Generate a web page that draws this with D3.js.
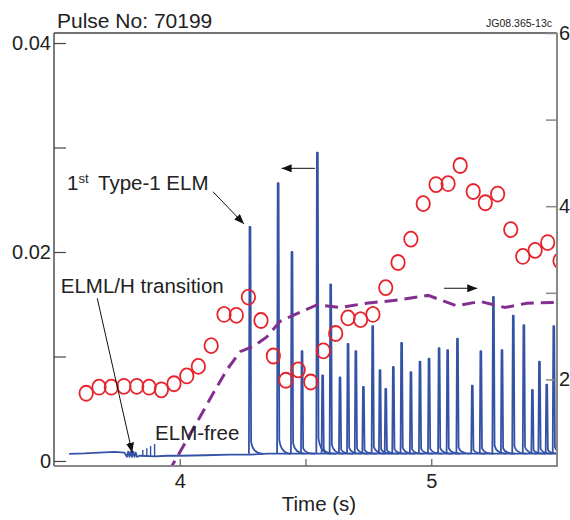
<!DOCTYPE html>
<html>
<head>
<meta charset="utf-8">
<script src="https://cdn.jsdelivr.net/npm/d3@7"></script>
<style>
  body { margin: 0; background: #fff; }
  svg { display: block; font-family: "Liberation Sans", Arial, sans-serif; }
</style>
</head>
<body>
<svg width="570" height="520"></svg>
<script>
// time axis
const timeTicks = [4, 4.5, 5];
const timeLabels = { 4: "4", 5: "5" };
const leftTicks = [0, 0.01, 0.02, 0.03, 0.04];
const leftLabels = { 0: "0", 0.02: "0.02", 0.04: "0.04" };
const rightTicks = [2, 3, 4, 5, 6];
const rightLabels = { 2: "2", 4: "4", 6: "6" };

// red circles (right axis)
const densT = [3.628, 3.679, 3.728, 3.778, 3.829, 3.878, 3.927, 3.977, 4.028, 4.074,
  4.125, 4.176, 4.225, 4.273, 4.323, 4.372, 4.422, 4.471, 4.521, 4.571,
  4.620, 4.669, 4.719, 4.768, 4.819, 4.868, 4.919, 4.968, 5.019, 5.067,
  5.115, 5.167, 5.215, 5.264, 5.316, 5.364, 5.413, 5.463, 5.512];
const densV = [1.84, 1.91, 1.91, 1.92, 1.92, 1.91, 1.88, 1.95, 2.04, 2.15,
  2.39, 2.75, 2.74, 2.95, 2.68, 2.27, 1.99, 2.11, 1.97, 2.33,
  2.53, 2.71, 2.69, 2.75, 3.06, 3.35, 3.62, 4.03, 4.25, 4.26,
  4.47, 4.17, 4.04, 4.14, 3.73, 3.42, 3.49, 3.58, 3.37];

// purple dashed (right axis)
const tempT = [3.955, 4.081, 4.133, 4.187, 4.240, 4.292, 4.346, 4.399, 4.451, 4.545,
  4.637, 4.743, 4.849, 4.988, 5.101, 5.194, 5.293, 5.380, 5.5];
const tempV = [0.93, 1.57, 1.84, 2.11, 2.32, 2.38, 2.49, 2.67, 2.74, 2.86,
  2.83, 2.88, 2.91, 2.97, 2.85, 2.90, 2.83, 2.88, 2.89];

// blue D-alpha trace (left axis): baseline + ELM spikes
const baseT = [3.56, 3.62, 3.68, 3.74, 3.78, 3.79, 3.795, 3.8, 3.805, 3.81, 3.815, 3.82,
  3.825, 3.83, 3.84, 3.9, 3.95, 4.0, 4.1, 4.2, 4.278, 4.35, 4.5, 4.7, 4.9, 5.1, 5.3, 5.5];
const baseV = [0.00068, 0.00072, 0.0008, 0.00088, 0.0008, 0.0004, 0.0009, 0.0004, 0.0009, 0.0004, 0.0009, 0.0004,
  0.0008, 0.0004, 0.0005, 0.00045, 0.0005, 0.0005, 0.00055, 0.0006, 0.0006, 0.0007, 0.0007, 0.0007, 0.0007, 0.0007, 0.0007, 0.0007];
const smallT = [3.853, 3.869, 3.884, 3.900];
const smallV = [0.00105, 0.00121, 0.00144, 0.00163];
const smallFloor = 0.00045;
const elmT = [4.279, 4.391, 4.446, 4.486, 4.547, 4.568, 4.600, 4.637, 4.669, 4.700,
  4.730, 4.767, 4.796, 4.819, 4.849, 4.882, 4.919, 4.955, 4.991, 5.031,
  5.065, 5.104, 5.163, 5.197, 5.247, 5.281, 5.326, 5.368, 5.402, 5.430,
  5.459, 5.487];
const elmV = [0.0224, 0.0266, 0.0200, 0.0105, 0.0295, 0.0082, 0.0169, 0.0080, 0.0112, 0.0105,
  0.0071, 0.0129, 0.0087, 0.0069, 0.0090, 0.0113, 0.0085, 0.0095, 0.0098, 0.0108,
  0.0106, 0.0117, 0.0072, 0.0105, 0.0157, 0.0106, 0.0139, 0.0130, 0.0068, 0.0095,
  0.0073, 0.0129];
const elmFloor = 0.0007;

// annotations, in time / left-axis units
const notes = [
  { text: "ELML/H transition", t: 3.527, v: 0.01605 },
  { text: "ELM-free", t: 3.902, v: 0.00201 }
];
const arrows = [
  { t1: 4.132, v1: 0.02577, t2: 4.2555, v2: 0.02268 },
  { t1: 3.672, v1: 0.01557, t2: 3.811, v2: 0.00079 },
  { t1: 4.538, v1: 0.02801, t2: 4.405, v2: 0.02801 },
  { t1: 5.051, v1: 0.01653, t2: 5.183, v2: 0.01653 }
];

const svg = d3.select("svg");
const L = 54, R = 557, T = 33, B = 466;

const x = d3.scaleLinear().domain([3.5, 5.5]).range([L, R]);
const yL = d3.scaleLinear().domain([-0.00048, 0.04096]).range([B, T]);
const yR = d3.scaleLinear().domain([1, 6]).range([B, T]);

svg.append("defs").append("clipPath").attr("id", "plot")
  .append("rect").attr("x", L).attr("y", T).attr("width", R - L).attr("height", B - T);

const marker = svg.select("defs").append("marker")
  .attr("id", "head")
  .attr("markerUnits", "userSpaceOnUse")
  .attr("markerWidth", 10).attr("markerHeight", 8)
  .attr("refX", 10).attr("refY", 4)
  .attr("orient", "auto");
marker.append("path").attr("d", "M0,0 L10,4 L0,8 z").attr("fill", "#111");

const plot = svg.append("g").attr("clip-path", "url(#plot)");
const blue = "#3553a6";

// baseline
plot.append("path")
  .attr("d", d3.line().x(i => x(baseT[i])).y(i => yL(baseV[i]))(d3.range(baseT.length)))
  .attr("fill", "none").attr("stroke", blue).attr("stroke-width", 1.8)
  .attr("stroke-linejoin", "round");

// small spikes before the ELMs
plot.selectAll(".small").data(smallT).enter().append("line")
  .attr("x1", d => x(d)).attr("x2", d => x(d))
  .attr("y1", yL(smallFloor)).attr("y2", (d, i) => yL(smallV[i]))
  .attr("stroke", blue).attr("stroke-width", 1.4);

// ELM spikes
plot.selectAll(".elm").data(elmT).enter().append("path")
  .attr("d", (d, i) => {
    const x0 = x(d), yb = yL(elmFloor), yp = yL(elmV[i]);
    const yt = yL(elmFloor + elmV[i] * 0.05);
    return `M${x0 - 1},${yb} L${x0 - 0.4},${yp} L${x0 + 0.5},${yp} L${x0 + 1.2},${yt}` +
      ` Q${x0 + 3},${yb} ${x0 + 13},${yb}`;
  })
  .attr("fill", "none").attr("stroke", blue).attr("stroke-width", 1.8)
  .attr("stroke-linejoin", "round");

// purple dashed
plot.append("path")
  .attr("d", d3.line().x(i => x(tempT[i])).y(i => yR(tempV[i]))(d3.range(tempT.length)))
  .attr("fill", "none").attr("stroke", "#822f90").attr("stroke-width", 3)
  .attr("stroke-dasharray", "13,7");

// red circles
plot.selectAll(".dens").data(densT).enter().append("ellipse")
  .attr("cx", d => x(d)).attr("cy", (d, i) => yR(densV[i]))
  .attr("rx", 6.7).attr("ry", 7.5)
  .attr("fill", "none").attr("stroke", "#e8222b").attr("stroke-width", 1.8);

// frame
svg.append("line").attr("x1", L).attr("x2", R).attr("y1", T).attr("y2", T).attr("stroke", "#444").attr("stroke-width", 1.4);
svg.append("line").attr("x1", L).attr("x2", L).attr("y1", T).attr("y2", B).attr("stroke", "#444").attr("stroke-width", 1.4);
svg.append("line").attr("x1", R).attr("x2", R).attr("y1", T).attr("y2", B + 1).attr("stroke", "#888").attr("stroke-width", 2);
svg.append("line").attr("x1", L).attr("x2", R).attr("y1", B).attr("y2", B).attr("stroke", "#888").attr("stroke-width", 2);

// axes (ticks pointing inward)
const axL = svg.append("g").attr("transform", `translate(${L},0)`)
  .call(d3.axisLeft(yL).tickValues(leftTicks).tickSize(-12).tickPadding(3)
    .tickFormat(d => leftLabels[d] || ""));
const axR = svg.append("g").attr("transform", `translate(${R},0)`)
  .call(d3.axisRight(yR).tickValues(rightTicks).tickSize(-11).tickPadding(2)
    .tickFormat(d => rightLabels[d] || ""));
const axB = svg.append("g").attr("transform", `translate(0,${B})`)
  .call(d3.axisBottom(x).tickValues(timeTicks).tickSize(-7).tickPadding(8)
    .tickFormat(d => timeLabels[d] || ""));
[axL, axR, axB].forEach(g => {
  g.select(".domain").remove();
  g.selectAll("text").attr("font-size", 20).attr("fill", "#222")
    .attr("font-family", "'Liberation Sans', Arial, sans-serif");
});
axL.selectAll("line").attr("stroke", "#444").attr("stroke-width", 1.2);
axR.selectAll("line").attr("stroke", "#888").attr("stroke-width", 1.5);
axB.selectAll("line").attr("stroke", "#666").attr("stroke-width", 1.3);

// titles
svg.append("text").attr("x", 57).attr("y", 28).attr("font-size", 21).attr("fill", "#222")
  .text("Pulse No: 70199");
svg.append("text").attr("x", 552).attr("y", 27).attr("font-size", 10.5).attr("fill", "#222")
  .attr("text-anchor", "end").text("JG08.365-13c");
svg.append("text").attr("x", 319).attr("y", 511).attr("font-size", 20.5).attr("fill", "#222")
  .attr("text-anchor", "middle").text("Time (s)");

// annotations
const first = svg.append("text").attr("x", x(3.552)).attr("y", yL(0.02593))
  .attr("font-size", 20.5).attr("fill", "#222");
first.append("tspan").text("1");
first.append("tspan").attr("font-size", 13).attr("dy", -7).text("st");
first.append("tspan").attr("x", x(3.675)).attr("dy", 7).text("Type-1 ELM");

svg.selectAll(".note").data(notes).enter().append("text")
  .attr("x", d => x(d.t)).attr("y", d => yL(d.v))
  .attr("font-size", 20.5).attr("fill", "#222").text(d => d.text);

svg.selectAll(".arrow").data(arrows).enter().append("line")
  .attr("x1", d => x(d.t1)).attr("y1", d => yL(d.v1))
  .attr("x2", d => x(d.t2)).attr("y2", d => yL(d.v2))
  .attr("stroke", "#111").attr("stroke-width", 1)
  .attr("marker-end", "url(#head)");
</script>
</body>
</html>
